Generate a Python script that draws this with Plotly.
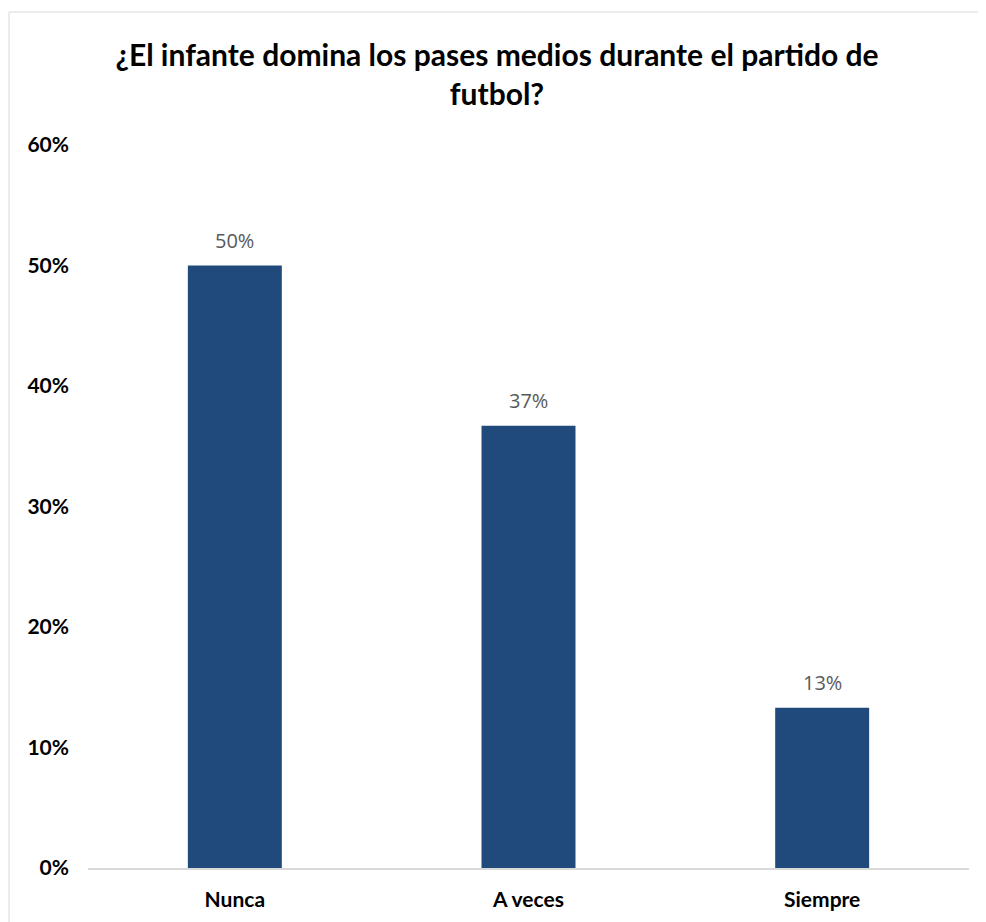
import plotly.graph_objects as go

categories = ["Nunca", "A veces", "Siempre"]
values = [0.50, 0.367, 0.133]
labels = ["50%", "37%", "13%"]
title_text = "¿El infante domina los pases medios durante el partido de<br>futbol?"

W, H = 986, 922
OFF = 8  # body margin offset in the page
L, R, T, B = 88 - OFF, 986 - 969 + OFF, 145 - OFF, 922 - 868 + OFF
pw = W - L - R
ph = H - T - B

def px_x(x):
    return (x - OFF - L) / pw

def px_y(y):
    return (H - B - (y - OFF)) / ph

fig = go.Figure(go.Bar(
    x=categories, y=values,
    marker=dict(color="#204A7C", line=dict(width=0)),
    width=0.32,
))

for c, v, t in zip(categories, values, labels):
    fig.add_annotation(x=c, y=v, text=t, showarrow=False, yanchor="bottom", yshift=10,
                       font=dict(family="Open Sans", size=20, color="#595959"))

fig.update_layout(
    width=W, height=H,
    margin=dict(l=L, r=R, t=T, b=B),
    paper_bgcolor="white", plot_bgcolor="white",
    title=dict(text=title_text, x=0.5 - OFF / W / 2, xanchor="center", y=1 - 58 / H, yanchor="top",
               font=dict(family="Lato", size=30, color="black", weight="bold")),
    showlegend=False,
    xaxis=dict(showline=True, linecolor="#d9d9d9", linewidth=1.5, ticks="",
               tickfont=dict(family="Lato", size=21, color="black", weight="bold"),
               showgrid=False, ticklabelstandoff=12),
    yaxis=dict(range=[0, 0.6], tickvals=[0, 0.1, 0.2, 0.3, 0.4, 0.5, 0.6],
               tickformat=".0%", showgrid=False, zeroline=False, showline=False,
               tickfont=dict(family="Lato", size=21, color="black", weight="bold"),
               ticklabelstandoff=18),
    shapes=[dict(type="rect", xref="paper", yref="paper",
                 x0=px_x(9), x1=px_x(983), y0=px_y(935), y1=px_y(12),
                 line=dict(color="#d9d9d9", width=1), fillcolor="rgba(0,0,0,0)", layer="below")],
)

fig.write_html("out.html")
